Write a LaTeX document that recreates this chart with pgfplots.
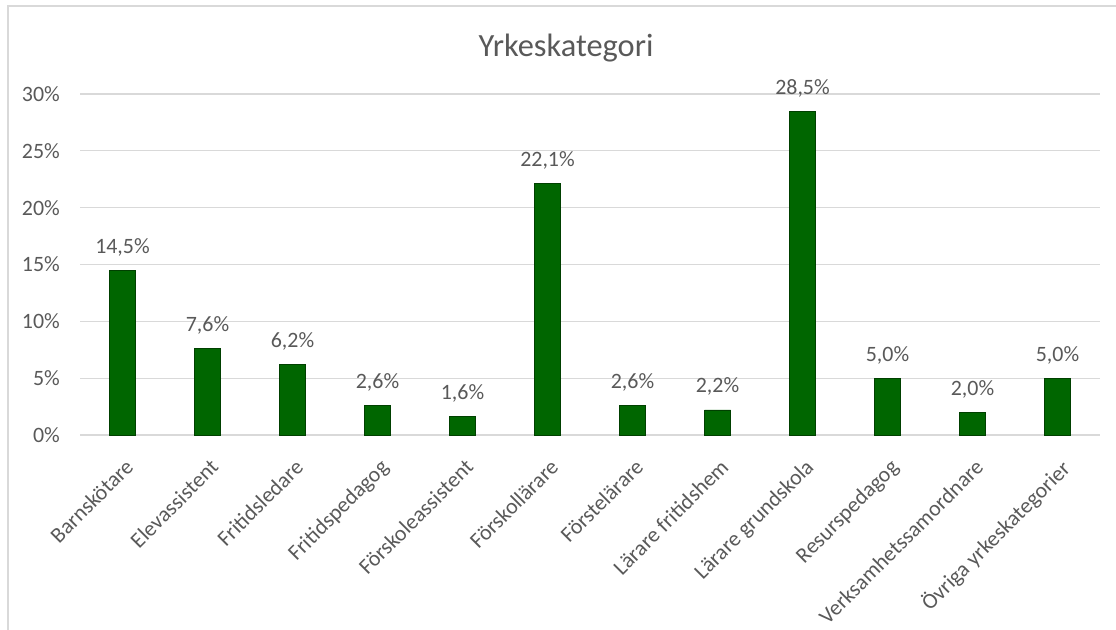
\documentclass[border=0pt]{standalone}
\usepackage{pgfplots}
\pgfplotsset{compat=1.18}
\usepackage{fontspec}
\setmainfont{Carlito}
\definecolor{txt}{HTML}{595959}
\definecolor{grd}{HTML}{D9D9D9}
\definecolor{barf}{RGB}{0,102,0}
\definecolor{bard}{RGB}{0,64,0}
\begin{document}
\begin{tikzpicture}[x=1bp,y=1bp]
\path[use as bounding box] (0,0) rectangle (1116,630);
\draw[grd, line width=1.5bp] (8,0) -- (8,624) -- (1116,624);
\node[text=txt, font=\fontsize{32.5}{38}\selectfont, anchor=base] at (566,573) {Yrkeskategori};
\begin{axis}[
  at={(80bp,195bp)}, anchor=south west,
  scale only axis, width=1020bp, height=341bp,
  xmin=-0.5, xmax=11.5, ymin=0, ymax=30,
  axis line style={draw=none},
  major tick length=0,
  ytick={0,5,10,15,20,25,30},
  yticklabel={\pgfmathprintnumber{\tick}\%},
  ymajorgrids, grid style={grd, line width=1.2bp},
  xtick={0,...,11},
  xticklabels={Barnskötare,Elevassistent,Fritidsledare,Fritidspedagog,Förskoleassistent,Förskollärare,Förstelärare,Lärare fritidshem,Lärare grundskola,Resurspedagog,Verksamhetssamordnare,Övriga yrkeskategorier},
  ticklabel style={text=txt, font=\fontsize{22}{26}\selectfont},
  /pgf/number format/assume math mode=true,
  yticklabel style={anchor=east, inner sep=0pt, xshift=-20bp},
  xticklabel style={rotate=45, anchor=north east, inner sep=0pt, xshift=-15bp, yshift=-17bp},
  nodes near coords={\pgfmathprintnumber[fixed,fixed zerofill,precision=1,use comma,assume math mode=true]{\pgfplotspointmeta}\%},
  every node near coord/.append style={text=txt, font=\fontsize{22}{26}\selectfont, anchor=base, inner sep=0pt, yshift=17bp},
  clip=false,
]
\addplot[ybar, bar width=26bp, fill=barf, draw=bard, line width=0.8bp] coordinates {
(0,14.5) (1,7.6) (2,6.2) (3,2.6) (4,1.6) (5,22.1) (6,2.6) (7,2.2) (8,28.5) (9,5.0) (10,2.0) (11,5.0)
};
\end{axis}
\end{tikzpicture}
\end{document}
